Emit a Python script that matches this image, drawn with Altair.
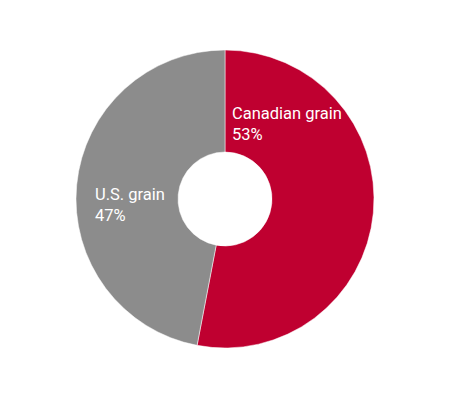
import altair as alt
import pandas as pd

categories = ["Canadian grain", "U.S. grain"]
shares = [53, 47]
colors = ["#BF0030", "#8C8C8C"]

df = pd.DataFrame({"category": categories, "share": shares, "order": [0, 1]})

arcs = alt.Chart(df).mark_arc(outerRadius=149, innerRadius=47, stroke="white", strokeWidth=0.5).encode(
    theta=alt.Theta("share:Q", stack=True),
    order=alt.Order("order:Q"),
    color=alt.Color("category:N", scale=alt.Scale(domain=categories, range=colors), legend=None),
)

text_style = dict(align="left", baseline="alphabetic", font="Roboto", fontSize=16.5,
                  color="white", lineBreak="\n", lineHeight=20.5)

lab_can = alt.Chart(pd.DataFrame({"label": [f"{categories[0]}\n{shares[0]}%"]})).mark_text(
    **text_style
).encode(text="label:N", x=alt.value(232), y=alt.value(119))

lab_us = alt.Chart(pd.DataFrame({"label": [f"{categories[1]}\n{shares[1]}%"]})).mark_text(
    **text_style
).encode(text="label:N", x=alt.value(95), y=alt.value(200))

chart = (arcs + lab_can + lab_us).properties(
    width=450, height=398, padding=0, autosize=alt.AutoSizeParams(type="none")
).configure_view(stroke=None)

chart.save("out.html", embed_options={"renderer": "svg", "actions": False})
